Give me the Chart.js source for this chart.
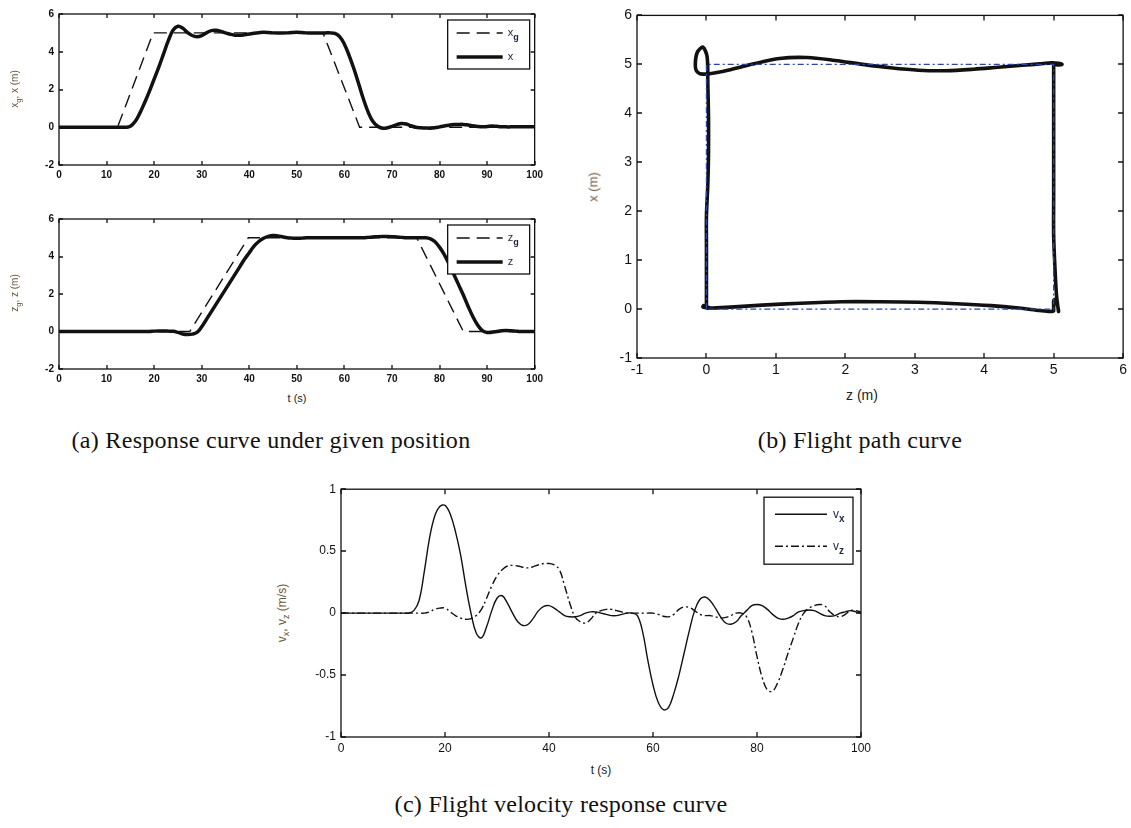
<!DOCTYPE html>
<html>
<head>
<meta charset="utf-8">
<script src="https://cdn.jsdelivr.net/npm/chart.js@4.4.0/dist/chart.umd.min.js"></script>
<style>
body { margin: 0; background: #fff; width: 1131px; height: 828px; position: relative; overflow: hidden; font-family: 'Liberation Sans', Arial, sans-serif; }
canvas { position: absolute; }
.cap { position: absolute; width: 700px; text-align: center; font-family: 'Liberation Serif', 'DejaVu Serif', serif; font-size: 24px; letter-spacing: 0.3px; line-height: 28px; color: #111; }
.yt { position: absolute; white-space: nowrap; transform: translate(-50%, -50%) rotate(-90deg); color: #6b5538; }
.xt { position: absolute; white-space: nowrap; transform: translate(-50%, -50%); color: #222; }
sub { font-size: 75%; }
</style>
</head>
<body>
<canvas id="posX" width="528" height="184" style="left:19px;top:3px"></canvas>
<canvas id="posZ" width="528" height="183" style="left:19px;top:208px"></canvas>
<canvas id="pathChart" width="534" height="380" style="left:597px;top:2px"></canvas>
<canvas id="velChart" width="574" height="282" style="left:301px;top:477px"></canvas>

<div class="yt" style="left:16px;top:89px;font-size:10px">x<sub>g</sub>, x (m)</div>
<div class="yt" style="left:16px;top:293px;font-size:10px">z<sub>g</sub>, z (m)</div>
<div class="xt" style="left:297px;top:398px;font-size:11px">t (s)</div>
<div class="yt" style="left:593px;top:187px;font-size:13px">x (m)</div>
<div class="xt" style="left:862px;top:395px;font-size:14px">z (m)</div>
<div class="yt" style="left:283px;top:613px;font-size:12px">v<sub>x</sub>, v<sub>z</sub> (m/s)</div>
<div class="xt" style="left:601px;top:770px;font-size:12px">t (s)</div>

<div class="cap" style="left:-79px;top:426px">(a) Response curve under given position</div>
<div class="cap" style="left:510px;top:426px">(b) Flight path curve</div>
<div class="cap" style="left:211px;top:790px">(c) Flight velocity response curve</div>

<script>
// tiempo (s)
const t = [0,1,2,3,4,5,6,7,8,9,10,11,12,13,14,15,16,17,18,19,20,21,22,23,24,25,26,27,28,29,30,31,32,33,34,35,36,37,38,39,40,41,42,43,44,45,46,47,48,49,50,51,52,53,54,55,56,57,58,59,60,61,62,63,64,65,66,67,68,69,70,71,72,73,74,75,76,77,78,79,80,81,82,83,84,85,86,87,88,89,90,91,92,93,94,95,96,97,98,99,100];

// posiciones de referencia (esquinas)
const xgT = [0, 12.3, 19.8, 55.5, 63.2, 100];
const xgV = [0, 0, 5, 5, 0, 0];
const zgT = [0, 27.5, 39.8, 75.2, 85, 100];
const zgV = [0, 0, 5, 5, 0, 0];

// respuesta x (m)
const xPos = [0,0,0,0,0,0,0,0,0,0,0,0,0,0,0,0.05,0.3,0.75,1.3,1.9,
  2.55,3.2,3.9,4.6,5.15,5.35,5.25,5.02,4.86,4.8,4.86,5.0,5.12,5.14,5.08,5.0,4.93,4.88,4.87,4.9,
  4.94,4.98,5.01,5.03,5.02,5.0,4.99,4.99,5.0,5.02,5.03,5.02,5.0,5.0,5.0,5.0,5.0,5.0,4.97,4.8,
  4.4,3.8,3.1,2.3,1.5,0.8,0.3,0.05,-0.05,-0.03,0.05,0.14,0.2,0.17,0.08,0.0,-0.03,-0.04,-0.05,-0.03,
  0.02,0.07,0.11,0.14,0.15,0.15,0.12,0.08,0.04,0.02,0.04,0.07,0.05,0.03,0.02,0.02,0.02,0.02,0.02,0.02,0.02];

// respuesta z (m)
const zPos = [0,0,0,0,0,0,0,0,0,0,0,0,0,0,0,0,0,0,0,0,
  0.02,0.03,0.03,0.02,0.01,-0.05,-0.13,-0.16,-0.14,-0.05,0.25,0.65,1.05,1.45,1.85,2.25,2.65,3.05,3.45,3.85,
  4.2,4.55,4.8,4.97,5.07,5.12,5.1,5.05,5.0,4.98,4.97,4.98,5.0,5.0,5.0,5.0,5.0,5.0,5.0,5.0,
  5.0,5.0,5.0,5.0,5.0,5.02,5.04,5.06,5.07,5.07,5.06,5.04,5.02,5.0,5.0,5.0,5.0,5.0,4.95,4.8,
  4.5,4.1,3.6,3.05,2.5,1.95,1.35,0.8,0.35,0.05,-0.05,-0.04,0.0,0.04,0.05,0.04,0.02,0,0,0,0];

// trayectoria de referencia (z, x)
const refZ = [0, 0, 5, 5, 0];
const refX = [0, 5, 5, 0, 0];

// velocidades (m/s)
const vx = [0,0,0,0,0,0,0,0,0,0,0,0,0,0,0.02,0.1,0.33,0.6,0.78,0.86,
  0.87,0.8,0.66,0.47,0.22,0.0,-0.16,-0.2,-0.11,0.02,0.12,0.14,0.08,0.0,-0.07,-0.1,-0.09,-0.04,0.02,0.055,
  0.06,0.04,0.01,-0.02,-0.03,-0.03,-0.02,0.0,0.01,0.01,0.0,-0.01,-0.02,-0.02,-0.01,0.0,0.0,-0.02,-0.15,-0.38,
  -0.58,-0.72,-0.78,-0.76,-0.65,-0.5,-0.32,-0.14,0.02,0.11,0.13,0.1,0.04,-0.03,-0.08,-0.09,-0.07,-0.02,0.02,0.06,
  0.07,0.06,0.03,-0.01,-0.04,-0.05,-0.04,-0.02,0.01,0.02,0.025,0.02,0.0,-0.02,-0.025,-0.02,0.0,0.01,0.02,0.01,0.0];
const vz = [0,0,0,0,0,0,0,0,0,0,0,0,0,0,0,0,0,0.01,0.03,0.04,
  0.04,0.01,-0.02,-0.04,-0.05,-0.045,-0.02,0.03,0.12,0.22,0.3,0.35,0.38,0.385,0.38,0.37,0.365,0.375,0.39,0.4,
  0.4,0.39,0.35,0.22,0.08,-0.03,-0.07,-0.08,-0.05,0.0,0.02,0.03,0.03,0.02,0.01,0.0,0.0,0.0,0.0,0.0,
  0.0,-0.01,-0.025,-0.03,-0.01,0.03,0.05,0.045,0.02,-0.01,-0.02,-0.02,-0.03,-0.04,-0.035,-0.02,0.0,0.0,-0.03,-0.15,
  -0.35,-0.52,-0.62,-0.63,-0.56,-0.45,-0.32,-0.2,-0.08,0.0,0.04,0.06,0.07,0.06,0.01,-0.02,-0.03,-0.01,0.02,0.02,0.01];

const pts = (xs, ys) => xs.map((v, i) => ({ x: v, y: ys[i] }));

// caja estilo MATLAB: marco, marcas interiores y leyenda
const boxTicks = {
    id: 'boxTicks',
    afterDraw(chart, args, o) {
        const { ctx, chartArea: a, scales } = chart;
        const tl = o.tickLen || 4;
        ctx.save();
        ctx.strokeStyle = '#111';
        ctx.lineWidth = 1.3;
        ctx.setLineDash([]);
        ctx.beginPath();
        scales.x.ticks.forEach(tk => {
            const px = Math.round(scales.x.getPixelForValue(tk.value));
            ctx.moveTo(px, a.bottom); ctx.lineTo(px, a.bottom - tl);
            ctx.moveTo(px, a.top); ctx.lineTo(px, a.top + tl);
        });
        scales.y.ticks.forEach(tk => {
            const py = Math.round(scales.y.getPixelForValue(tk.value));
            ctx.moveTo(a.left, py); ctx.lineTo(a.left + tl, py);
            ctx.moveTo(a.right, py); ctx.lineTo(a.right - tl, py);
        });
        ctx.stroke();
        ctx.strokeRect(a.left, a.top, a.right - a.left, a.bottom - a.top);

        const lg = o.legend;
        if (lg) {
            const bx = a.right - lg.right - lg.width;
            const by = a.top + lg.top;
            ctx.fillStyle = '#fff';
            ctx.fillRect(bx, by, lg.width, lg.height);
            ctx.strokeRect(bx, by, lg.width, lg.height);
            lg.items.forEach((it, i) => {
                const ds = chart.data.datasets[it.ds];
                const y = by + lg.rows[i];
                ctx.strokeStyle = ds.borderColor;
                ctx.lineWidth = ds.borderWidth;
                ctx.setLineDash(ds.borderDash || []);
                ctx.beginPath();
                ctx.moveTo(bx + lg.x0, y);
                ctx.lineTo(bx + lg.x0 + lg.len, y);
                ctx.stroke();
                ctx.setLineDash([]);
                ctx.fillStyle = '#1c2440';
                ctx.textBaseline = 'middle';
                ctx.font = lg.size + 'px "Liberation Sans", Arial, sans-serif';
                const tx = bx + lg.x0 + lg.len + lg.gap;
                ctx.fillText(it.base, tx, y);
                if (it.sub) {
                    const w = ctx.measureText(it.base).width;
                    ctx.font = 'bold ' + Math.round(lg.size * 0.8) + 'px "Liberation Sans", Arial, sans-serif';
                    ctx.fillText(it.sub, tx + w, y + lg.size * 0.4);
                }
                ctx.strokeStyle = '#111';
                ctx.lineWidth = 1.3;
            });
        }
        ctx.restore();
    }
};

function axes(xmin, xmax, xstep, ymin, ymax, ystep, font, yW, xH) {
    return {
        x: {
            type: 'linear', min: xmin, max: xmax,
            ticks: { stepSize: xstep, autoSkip: false, maxRotation: 0, padding: 4, color: '#111', font: font,
                callback: v => String(v) },
            grid: { display: false, drawTicks: false },
            border: { display: false },
            afterFit: s => { s.height = xH; }
        },
        y: {
            type: 'linear', min: ymin, max: ymax,
            ticks: { stepSize: ystep, padding: 5, color: '#111', font: font,
                callback: v => String(v) },
            grid: { display: false, drawTicks: false },
            border: { display: false },
            afterFit: s => { s.width = yW; }
        }
    };
}

const fontA = { family: 'Liberation Sans', size: 10, weight: 'bold' };

// Gráfica x
const posXChart = new Chart(document.getElementById('posX').getContext('2d'), {
    type: 'scatter',
    data: {
        datasets: [{
            label: 'xg', data: pts(xgT, xgV), showLine: true, pointRadius: 0,
            borderColor: '#111', borderWidth: 1.4, borderDash: [13, 7], tension: 0, order: 1
        }, {
            label: 'x', data: pts(t, xPos), showLine: true, pointRadius: 0,
            borderColor: '#111', borderWidth: 3.5, tension: 0.4, order: 0
        }]
    },
    options: {
        responsive: false, animation: false, devicePixelRatio: 1, events: [],
        layout: { padding: { top: 10, right: 12, left: 0, bottom: 0 } },
        scales: axes(0, 100, 10, -2, 6, 2, fontA, 40, 22),
        plugins: {
            legend: { display: false }, tooltip: { enabled: false },
            boxTicks: { tickLen: 4, legend: { right: 5, top: 6, width: 82, height: 49, x0: 9, len: 46, gap: 5, size: 11, rows: [13, 37],
                items: [{ ds: 0, base: 'x', sub: 'g' }, { ds: 1, base: 'x' }] } }
        }
    },
    plugins: [boxTicks]
});

// Gráfica z
const posZChart = new Chart(document.getElementById('posZ').getContext('2d'), {
    type: 'scatter',
    data: {
        datasets: [{
            label: 'zg', data: pts(zgT, zgV), showLine: true, pointRadius: 0,
            borderColor: '#111', borderWidth: 1.4, borderDash: [13, 7], tension: 0, order: 1
        }, {
            label: 'z', data: pts(t, zPos), showLine: true, pointRadius: 0,
            borderColor: '#111', borderWidth: 3.5, tension: 0.4, order: 0
        }]
    },
    options: {
        responsive: false, animation: false, devicePixelRatio: 1, events: [],
        layout: { padding: { top: 10, right: 12, left: 0, bottom: 0 } },
        scales: axes(0, 100, 10, -2, 6, 2, fontA, 40, 22),
        plugins: {
            legend: { display: false }, tooltip: { enabled: false },
            boxTicks: { tickLen: 4, legend: { right: 5, top: 6, width: 82, height: 49, x0: 9, len: 46, gap: 5, size: 11, rows: [13, 37],
                items: [{ ds: 0, base: 'z', sub: 'g' }, { ds: 1, base: 'z' }] } }
        }
    },
    plugins: [boxTicks]
});

// Trayectoria de vuelo
const pathChart = new Chart(document.getElementById('pathChart').getContext('2d'), {
    type: 'scatter',
    data: {
        datasets: [{
            label: 'referencia', data: pts(refZ, refX), showLine: true, pointRadius: 0,
            borderColor: '#2c45a8', borderWidth: 1.3, borderDash: [6, 3, 2, 3], tension: 0, order: 0
        }, {
            label: 'trayectoria', data: pts(zPos, xPos), showLine: true, pointRadius: 0,
            borderColor: '#111', borderWidth: 3.6, tension: 0.3, order: 1
        }]
    },
    options: {
        responsive: false, animation: false, devicePixelRatio: 1, events: [],
        layout: { padding: { top: 10, right: 4, left: 0, bottom: 0 } },
        scales: axes(-1, 6, 1, -1, 6, 1, { family: 'Liberation Sans', size: 14 }, 40, 24),
        plugins: { legend: { display: false }, tooltip: { enabled: false }, boxTicks: { tickLen: 5 } }
    },
    plugins: [boxTicks]
});

// Velocidades
const velChart = new Chart(document.getElementById('velChart').getContext('2d'), {
    type: 'scatter',
    data: {
        datasets: [{
            label: 'vx', data: pts(t, vx), showLine: true, pointRadius: 0,
            borderColor: '#111', borderWidth: 1.4, tension: 0.4
        }, {
            label: 'vz', data: pts(t, vz), showLine: true, pointRadius: 0,
            borderColor: '#111', borderWidth: 1.4, borderDash: [8, 3, 2, 3], tension: 0.4
        }]
    },
    options: {
        responsive: false, animation: false, devicePixelRatio: 1, events: [],
        layout: { padding: { top: 10, right: 14, left: 0, bottom: 0 } },
        scales: axes(0, 100, 20, -1, 1, 0.5, { family: 'Liberation Sans', size: 12 }, 40, 22),
        plugins: {
            legend: { display: false }, tooltip: { enabled: false },
            boxTicks: { tickLen: 5, legend: { right: 8, top: 8, width: 89, height: 67, x0: 11, len: 52, gap: 6, size: 12, rows: [17, 49],
                items: [{ ds: 0, base: 'v', sub: 'x' }, { ds: 1, base: 'v', sub: 'z' }] } }
        }
    },
    plugins: [boxTicks]
});
</script>
</body>
</html>
